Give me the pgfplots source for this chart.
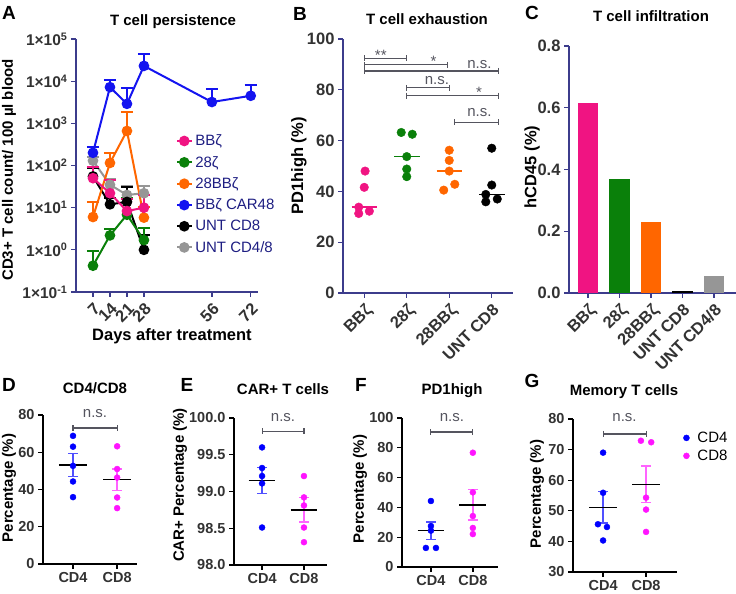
\documentclass[border=0pt]{standalone}
\usepackage{fontspec}
\setmainfont{Liberation Sans}
\usepackage{pgfplots}
\pgfplotsset{compat=1.18}
\definecolor{axc}{RGB}{60,60,140}
\definecolor{legc}{RGB}{30,30,130}
\definecolor{cpink}{RGB}{240,20,130}
\definecolor{cgreen}{RGB}{10,128,10}
\definecolor{corange}{RGB}{255,102,0}
\definecolor{cblue}{RGB}{20,20,240}
\definecolor{cgray}{RGB}{150,150,150}
\definecolor{tickc}{RGB}{50,50,50}
\definecolor{brc}{RGB}{85,85,95}
\definecolor{mblue}{RGB}{0,0,255}
\definecolor{mmag}{RGB}{255,20,255}
\definecolor{sblue}{RGB}{80,80,255}
\definecolor{smag}{RGB}{255,100,255}
\newcommand\fs{\fontsize{15}{18}\selectfont}
\newcommand\fb{\fontsize{15}{18}\selectfont\bfseries}
\newcommand\ftop{\fontsize{16.5}{18}\selectfont\bfseries}
\newcommand\fbot{\fontsize{14.5}{17}\selectfont\bfseries}
\newcommand\fl{\fontsize{19}{22}\selectfont\bfseries}
\pgfplotsset{
  panel/.style={scale only axis, anchor=south west, clip=false,
    axis x line*=bottom, axis y line*=left,
    axis line style={-, line width=1.3pt, draw=#1},
    tick align=outside, major tick length=5pt,
    tick style={line width=1.3pt, draw=#1},
    tick label style={font=\ftop, text=tickc},
    /pgf/number format/assume math mode=true,
    /pgf/number format/1000 sep={},
    minor tick num=0},
  botpanel/.style={panel=black, xtick={0,1}, xticklabels={CD4,CD8}, tick label style={font=\fbot}},
  ser/.style={color=#1, line width=2pt, mark=*, mark size=4.3pt, mark options={solid, fill=#1}},
  serr/.style={ser=#1, error bars/y dir=plus, error bars/y explicit,
    error bars/error bar style={line width=2pt, color=#1},
    error bars/error mark options={rotate=90, line width=2pt, color=#1, mark size=6pt}},
  sem/.style={color=#1, mark=none, error bars/y dir=both, error bars/y explicit,
    error bars/error bar style={line width=1.3pt, color=#1},
    error bars/error mark options={rotate=90, line width=1.3pt, color=#1, mark size=5pt}},
  bracket/.style={brc, line width=1.1pt, mark=|, mark size=3pt, mark options={solid}},
  bdots/.style={only marks, mark=*, mark size=4.3pt, color=#1},
  sdots/.style={only marks, mark=*, mark size=3pt, color=#1},
}
\begin{document}
\begin{tikzpicture}
\path[use as bounding box] (0pt,0pt) rectangle (736pt,594pt);

% ---------------- Panel A
\begin{axis}[panel=axc, at={(76pt,302pt)}, width=182pt, height=253pt,
  xmin=0, xmax=75, ymode=log, ymin=0.1, ymax=100000,
  ytick={0.1,1,10,100,1000,10000,100000},
  yticklabels={1×10\textsuperscript{-1},1×10\textsuperscript{0},1×10\textsuperscript{1},1×10\textsuperscript{2},1×10\textsuperscript{3},1×10\textsuperscript{4},1×10\textsuperscript{5}},
  yticklabel style={font=\fontsize{15.5}{18}\selectfont\bfseries},
  yminorticks=false,
  xtick={7,14,21,28,56,72},
  xticklabel style={rotate=45, anchor=north east},
  legend style={at={(axis description cs:0.55,0.63)}, anchor=north west, draw=none, fill=none, font=\fs, text=legc, row sep=5pt, inner sep=0pt},
  legend cell align=left,
  legend image code/.code={\draw[mark repeat=2,mark phase=2,#1] plot coordinates {(0pt,0pt)(7pt,0pt)(15pt,0pt)};},
]
\addlegendimage{ser=cpink}\addlegendentry{BBζ}
\addlegendimage{ser=cgreen}\addlegendentry{28ζ}
\addlegendimage{ser=corange}\addlegendentry{28BBζ}
\addlegendimage{ser=cblue}\addlegendentry{BBζ CAR48}
\addlegendimage{ser=black}\addlegendentry{UNT CD8}
\addlegendimage{ser=cgray}\addlegendentry{UNT CD4/8}
\addplot[forget plot, serr=cgray] coordinates {(7,130) += (0,30) (14,35) += (0,12) (21,20) += (0,12) (28,22) += (0,10)};
\addplot[forget plot, serr=black] coordinates {(7,55) += (0,32) (14,12) += (0,5) (21,13.7) += (0,18) (28,1.0) += (0,1.3)};
\addplot[forget plot, serr=cblue] coordinates {(7,200) += (0,75) (14,7200) += (0,3500) (21,2900) += (0,4100) (28,23000) += (0,20000) (56,3200) += (0,3300) (72,4500) += (0,3500)};
\addplot[forget plot, serr=corange] coordinates {(7,6) += (0,7.5) (14,115) += (0,85) (21,660) += (0,1200) (28,5.8) += (0,4.7)};
\addplot[forget plot, serr=cgreen] coordinates {(7,0.42) += (0,0.53) (14,2.2) += (0,1) (21,6.8) += (0,10) (28,1.7) += (0,1.6)};
\addplot[forget plot, serr=cpink] coordinates {(7,50) += (0,43) (14,22) += (0,24) (21,8.3) += (0,7.7) (28,10) += (0,10)};
\end{axis}

% ---------------- Panel B
\begin{axis}[panel=axc, at={(343pt,301pt)}, width=170pt, height=254pt,
  xmin=-0.5, xmax=3.5, ymin=0, ymax=100, ytick={0,20,40,60,80,100},
  xtick={0,1,2,3}, xticklabels={BBζ,28ζ,28BBζ,UNT CD8},
  xticklabel style={rotate=45, anchor=north east}]
\addplot[bdots=cpink] coordinates {(0.02,48) (0,41.6) (-0.13,33.8) (-0.13,31.3) (0.12,32.2)};
\addplot[bdots=cgreen] coordinates {(0.87,63.2) (1.13,62.5) (1,53.7) (1,48.8) (1,45.8)};
\addplot[bdots=corange] coordinates {(2,56.2) (2,52.2) (2,48) (1.87,40.5) (2.13,42.8)};
\addplot[bdots=black] coordinates {(3,57) (3,42.5) (2.86,38.8) (2.86,35.9) (3.13,37)};
\addplot[cpink, line width=1.6pt] coordinates {(-0.3,33.8) (0.3,33.8)};
\addplot[cgreen, line width=1.6pt] coordinates {(0.7,53.7) (1.3,53.7)};
\addplot[corange, line width=1.6pt] coordinates {(1.7,48) (2.3,48)};
\addplot[black, line width=1.6pt] coordinates {(2.7,38.8) (3.3,38.8)};
\addplot[bracket] coordinates {(0,92.4) (1,92.4)};
\addplot[bracket] coordinates {(0,89.8) (1.96,89.8)};
\addplot[bracket] coordinates {(0,87.4) (3.16,87.4)};
\addplot[bracket] coordinates {(1,80.8) (2,80.8)};
\addplot[bracket] coordinates {(1,77.7) (3.16,77.7)};
\addplot[bracket] coordinates {(2.12,67.2) (3.16,67.2)};
\node[anchor=base, font=\fs, text=brc] at (axis cs:0.39,91.4) {**};
\node[anchor=base, font=\fs, text=brc] at (axis cs:1.63,89.0) {*};
\node[anchor=base, font=\fs, text=brc] at (axis cs:2.71,88.5) {n.s.};
\node[anchor=base, font=\fs, text=brc] at (axis cs:1.71,81.9) {n.s.};
\node[anchor=base, font=\fs, text=brc] at (axis cs:2.70,76.9) {*};
\node[anchor=base, font=\fs, text=brc] at (axis cs:2.71,69.4) {n.s.};
\end{axis}

% ---------------- Panel C
\begin{axis}[panel=axc, at={(569pt,301pt)}, width=167pt, height=247pt,
  xmin=-0.6, xmax=4.7, ymin=0, ymax=0.8, ytick={0,0.2,0.4,0.6,0.8},
  yticklabel style={/pgf/number format/.cd, fixed, fixed zerofill, precision=1},
  xtick={0,1,2,3,4}, xticklabels={BBζ,28ζ,28BBζ,UNT CD8,UNT CD4/8},
  xticklabel style={rotate=45, anchor=north east}]
\addplot[ybar, bar width=0.66, bar shift=0pt, fill=cpink, draw=none] coordinates {(0,0.615)};
\addplot[ybar, bar width=0.66, bar shift=0pt, fill=cgreen, draw=none] coordinates {(1,0.369)};
\addplot[ybar, bar width=0.66, bar shift=0pt, fill=corange, draw=none] coordinates {(2,0.23)};
\addplot[ybar, bar width=0.66, bar shift=0pt, fill=black, draw=none] coordinates {(3,0.008)};
\addplot[ybar, bar width=0.66, bar shift=0pt, fill=cgray, draw=none] coordinates {(4,0.055)};
\end{axis}

% ---------------- Panel D
\begin{axis}[botpanel, at={(43pt,30pt)}, width=94pt, height=149pt,
  xmin=-0.68, xmax=1.45, ymin=0, ymax=80, ytick={0,20,40,60,80}]
\addplot[sdots=mblue] coordinates {(0,68.8) (0,63) (0,52.7) (0,44.3) (0,35.9)};
\addplot[sdots=mmag] coordinates {(1,63.2) (1,51) (1,46.4) (1,35.7) (1,30)};
\addplot[sem=sblue] coordinates {(0,53.1) +- (0,6.1)};
\addplot[sem=smag] coordinates {(1,45.3) +- (0,5.7)};
\addplot[black, line width=1.4pt] coordinates {(-0.32,53.1) (0.32,53.1)};
\addplot[black, line width=1.4pt] coordinates {(0.68,45.3) (1.32,45.3)};
\addplot[bracket] coordinates {(0,73) (1,73)};
\node[anchor=base, font=\fs, text=brc] at (axis cs:0.5,78.5) {n.s.};
\end{axis}

% ---------------- Panel E
\begin{axis}[botpanel, at={(234pt,29pt)}, width=93pt, height=147pt,
  xmin=-0.67, xmax=1.55, ymin=98, ymax=100, ytick={98,98.5,99,99.5,100},
  yticklabel style={/pgf/number format/.cd, fixed, fixed zerofill, precision=1}]
\addplot[sdots=mblue] coordinates {(0,99.6) (0,99.32) (0,99.21) (0,99.11) (0,98.51)};
\addplot[sdots=mmag] coordinates {(1,99.21) (1,98.92) (1,98.81) (1,98.51) (1,98.31)};
\addplot[sem=sblue] coordinates {(0,99.15) +- (0,0.18)};
\addplot[sem=smag] coordinates {(1,98.75) +- (0,0.165)};
\addplot[black, line width=1.4pt] coordinates {(-0.32,99.15) (0.32,99.15)};
\addplot[black, line width=1.4pt] coordinates {(0.68,98.75) (1.32,98.75)};
\addplot[bracket] coordinates {(0,99.82) (1,99.82)};
\node[anchor=base, font=\fs, text=brc] at (axis cs:0.5,99.95) {n.s.};
\end{axis}

% ---------------- Panel F
\begin{axis}[botpanel, at={(402pt,27pt)}, width=96pt, height=149pt,
  xmin=-0.69, xmax=1.6, ymin=0, ymax=100, ytick={0,20,40,60,80,100}]
\addplot[sdots=mblue] coordinates {(0,44.3) (0,27.5) (0,24.4) (-0.12,12.8) (0.12,12.8)};
\addplot[sdots=mmag] coordinates {(1,76.7) (1,50.1) (1,34.2) (1,26.2) (1,22.1)};
\addplot[sem=sblue] coordinates {(0,24.4) +- (0,5.8)};
\addplot[sem=smag] coordinates {(1,41.7) +- (0,10.2)};
\addplot[black, line width=1.4pt] coordinates {(-0.32,24.4) (0.32,24.4)};
\addplot[black, line width=1.4pt] coordinates {(0.68,41.7) (1.32,41.7)};
\addplot[bracket] coordinates {(0,90.6) (1,90.6)};
\node[anchor=base, font=\fs, text=brc] at (axis cs:0.5,97.5) {n.s.};
\end{axis}

% ---------------- Panel G
\begin{axis}[botpanel, at={(573pt,22pt)}, width=104pt, height=153pt,
  xmin=-0.7, xmax=1.72, ymin=30, ymax=80, ytick={30,40,50,60,70,80},
  legend style={at={(axis description cs:1.06,0.93)}, anchor=north west, draw=none, fill=none, font=\fs, row sep=2pt, inner sep=0pt,
    /tikz/every odd column/.append style={column sep=6pt}},
  legend cell align=left]
\addlegendimage{sdots=mblue}\addlegendentry{CD4}
\addlegendimage{sdots=mmag}\addlegendentry{CD8}
\addplot[forget plot, sdots=mblue] coordinates {(0,69) (0,55.9) (-0.12,45.6) (0.09,44.7) (0,40.3)};
\addplot[forget plot, sdots=mmag] coordinates {(0.88,72.9) (1.12,72.4) (1,54.3) (1,50.4) (1,43.1)};
\addplot[forget plot, sem=sblue] coordinates {(0,51.1) +- (0,5.1)};
\addplot[forget plot, sem=smag] coordinates {(1,58.6) +- (0,6)};
\addplot[forget plot, black, line width=1.4pt] coordinates {(-0.32,51.1) (0.32,51.1)};
\addplot[forget plot, black, line width=1.4pt] coordinates {(0.68,58.6) (1.32,58.6)};
\addplot[forget plot, bracket] coordinates {(0,75.1) (1,75.1)};
\node[anchor=base, font=\fs, text=brc] at (axis cs:0.5,79.1) {n.s.};
\end{axis}

% ---------------- Texts
\node[anchor=base, font=\fl] at (9pt,574pt) {A};
\node[anchor=base, font=\fl] at (300pt,573pt) {B};
\node[anchor=base, font=\fl] at (532pt,574pt) {C};
\node[anchor=base, font=\fl] at (9pt,202pt) {D};
\node[anchor=base, font=\fl] at (187pt,202pt) {E};
\node[anchor=base, font=\fl] at (361pt,202pt) {F};
\node[anchor=base, font=\fl] at (532pt,206pt) {G};
\node[anchor=base, font=\fb] at (173pt,568pt) {T cell persistence};
\node[anchor=base, font=\fb] at (427pt,569pt) {T cell exhaustion};
\node[anchor=base, font=\fb] at (651pt,572pt) {T cell infiltration};
\node[anchor=base, font=\fb] at (95pt,200.7pt) {CD4/CD8};
\node[anchor=base, font=\fb] at (283pt,199pt) {CAR+ T cells};
\node[anchor=base, font=\fb] at (452pt,199.7pt) {PD1high};
\node[anchor=base, font=\fb] at (624pt,198.3pt) {Memory T cells};
\node[rotate=90, font=\fb] at (9pt,424pt) {CD3+ T cell count/ 100 µl blood};
\node[rotate=90, font=\ftop] at (299pt,428pt) {PD1high (\%)};
\node[rotate=90, font=\ftop] at (532pt,427pt) {hCD45 (\%)};
\node[rotate=90, font=\fb] at (9pt,106pt) {Percentage (\%)};
\node[rotate=90, font=\fb] at (180pt,109pt) {CAR+ Percentage (\%)};
\node[rotate=90, font=\fb] at (360pt,105pt) {Percentage (\%)};
\node[rotate=90, font=\fb] at (537pt,100pt) {Percentage (\%)};
\node[anchor=base, font=\ftop] at (172pt,253.3pt) {Days after treatment};
\end{tikzpicture}
\end{document}
